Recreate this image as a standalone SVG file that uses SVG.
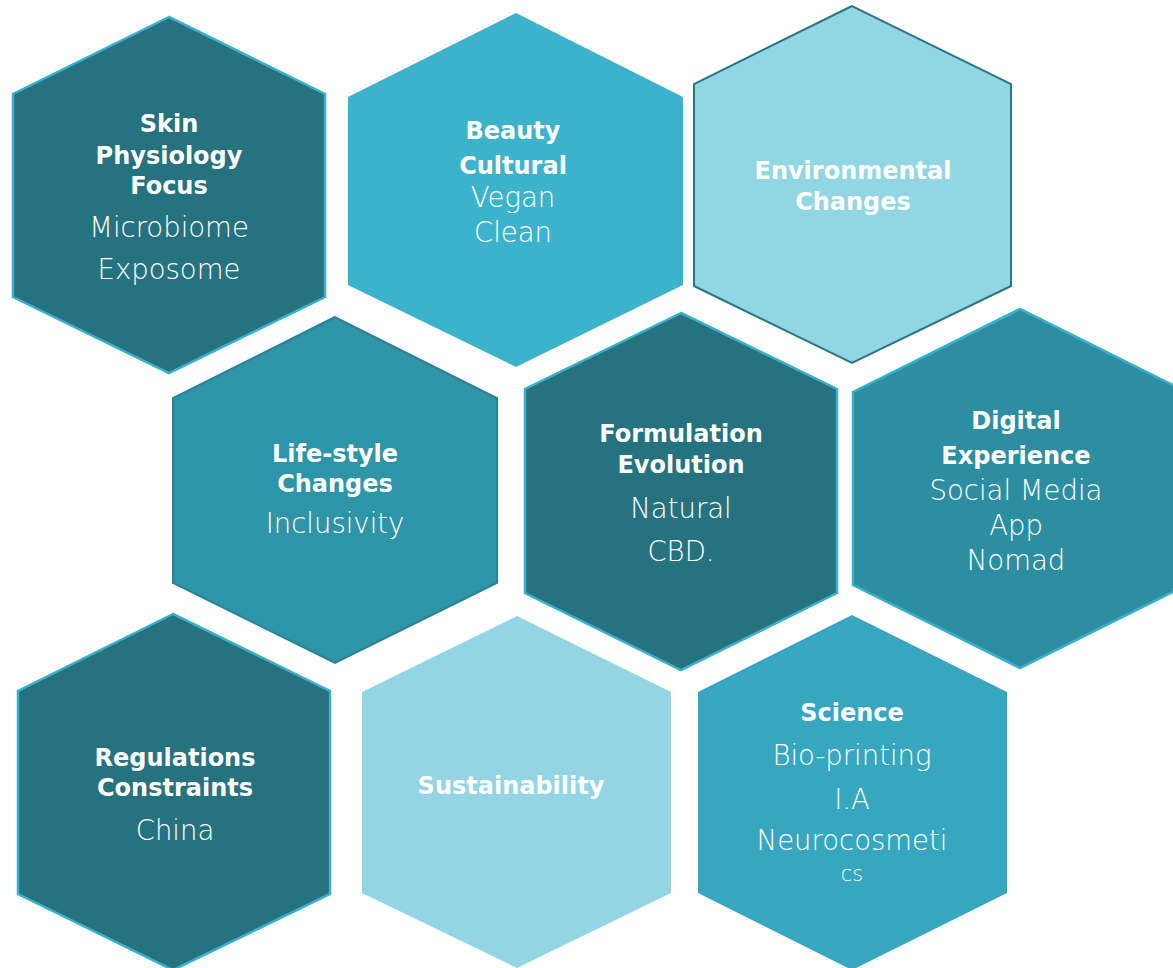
<svg xmlns="http://www.w3.org/2000/svg" width="1173" height="968" viewBox="0 0 1173 968">
<style>
.b{font-family:"DejaVu Sans","Liberation Sans",sans-serif;font-weight:bold;font-size:24px;fill:#fff;text-anchor:middle}
.r{font-family:"DejaVu Sans","Liberation Sans",sans-serif;font-weight:200;font-size:27.5px;fill:#fff;text-anchor:middle}
.dk{fill:#26727F;stroke:#3AB0CA;stroke-width:2.5}
</style>
<rect width="1173" height="968" fill="#fff"/>
<g id="connectors"/>
<g id="skin">
<polygon class="dk" points="169,17 13,94 13,297 169,373 325,297 325,94"/>
<text class="b" x="169" y="132">Skin</text>
<text class="b" x="169" y="164">Physiology</text>
<text class="b" x="169" y="194">Focus</text>
<text class="r" x="169" y="237">Microbiome</text>
<text class="r" x="169" y="279">Exposome</text>
</g>
<g id="beauty">
<polygon points="516,13 348,97 348,285 516,367 683,285 683,97" fill="#3DB3CB"/>
<text class="b" x="513" y="139">Beauty</text>
<text class="b" x="513" y="174">Cultural</text>
<text class="r" x="513" y="207">Vegan</text>
<text class="r" x="513" y="242">Clean</text>
</g>
<g id="environmental">
<polygon points="852,6 694,84 694,286 852,363 1011,286 1011,84" fill="#93D6E3" stroke="#2B7684" stroke-width="2"/>
<text class="b" x="853" y="179">Environmental</text>
<text class="b" x="853" y="210">Changes</text>
</g>
<g id="lifestyle">
<polygon points="335,317 173,398 173,583 335,663 497,583 497,398" fill="#2E94A8" stroke="#2A8294" stroke-width="2"/>
<text class="b" x="335" y="462">Life-style</text>
<text class="b" x="335" y="492">Changes</text>
<text class="r" x="335" y="533">Inclusivity</text>
</g>
<g id="formulation">
<polygon class="dk" points="681,313 525,389 525,593 681,670 837,593 837,389"/>
<text class="b" x="681" y="442">Formulation</text>
<text class="b" x="681" y="473">Evolution</text>
<text class="r" x="681" y="518">Natural</text>
<text class="r" x="681" y="561">CBD.</text>
</g>
<g id="digital">
<polygon points="1020,309 853,392 853,585 1020,668 1187,585 1187,392" fill="#2E8EA1" stroke="#3AB1CA" stroke-width="2.5"/>
<text class="b" x="1016" y="429">Digital</text>
<text class="b" x="1016" y="464">Experience</text>
<text class="r" x="1016" y="500">Social Media</text>
<text class="r" x="1016" y="535">App</text>
<text class="r" x="1016" y="570">Nomad</text>
</g>
<g id="regulations">
<polygon class="dk" points="173,614 18,691 18,894 173,970 330,894 330,691"/>
<text class="b" x="175" y="766">Regulations</text>
<text class="b" x="175" y="796">Constraints</text>
<text class="r" x="175" y="840">China</text>
</g>
<g id="sustainability">
<polygon points="517,616 362,692 362,893 517,968 671,893 671,692" fill="#93D5E2"/>
<text class="b" x="511" y="794">Sustainability</text>
</g>
<g id="science">
<polygon points="852,615 698,692 698,893 852,970 1007,893 1007,692" fill="#36A7BF"/>
<text class="b" x="852" y="721">Science</text>
<text class="r" x="852" y="765">Bio-printing</text>
<text class="r" x="852" y="809">I.A</text>
<text class="r" x="852" y="850">Neurocosmeti</text>
<text class="r" x="852" y="881" style="font-size:21px">cs</text>
</g>
</svg>
